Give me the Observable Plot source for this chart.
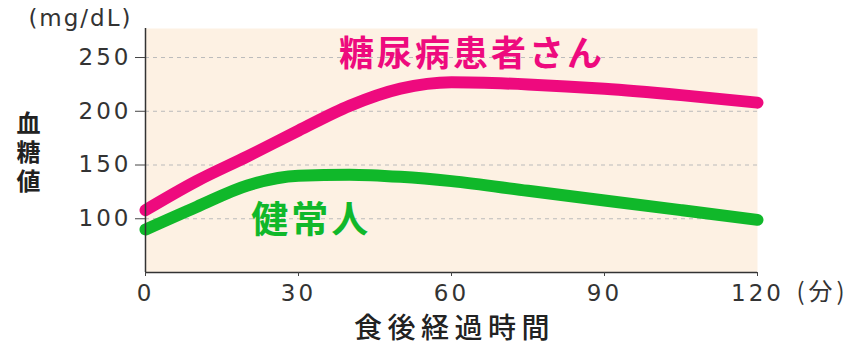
<!DOCTYPE html>
<html><head><meta charset="utf-8">
<script src="https://cdn.jsdelivr.net/npm/d3@7"></script>
<script src="https://cdn.jsdelivr.net/npm/@observablehq/plot@0.6"></script>
<style>
html,body{margin:0;padding:0;background:#fff;}
#chart svg{display:block;}
.ls-y text{letter-spacing:3px;}
.ls-x text{letter-spacing:3px;}
.ls-pink text{letter-spacing:3px;}
.ls-green text{letter-spacing:3px;}
.ls-unit text{letter-spacing:2px;}
.ls-min text{letter-spacing:4px;}
.ls-xlab text{letter-spacing:5.5px;}
.ls-vert text{writing-mode:vertical-rl;letter-spacing:5px;}
</style>
</head><body><div id="chart"></div>
<script>
const minutes = [0, 10, 20, 30, 40, 50, 60, 75, 90, 105, 120];
const diabetic = [108, 135, 158, 182, 205, 221, 227, 225, 221, 215, 208];
const healthy = [90, 111, 131, 140, 141, 139, 135, 126, 117, 108, 99];
const xTicks = [0, 30, 60, 90, 120];
const yTicks = [100, 150, 200, 250];
const seriesNames = ["糖尿病患者さん", "健常人"];
const pinkLabel = [{text: seriesNames[0], x: 64, y: 253}];
const greenLabel = [{text: seriesNames[1], x: 32.5, y: 98}];

const pink = "#ee0a7e", green = "#10b82a", ink = "#333";
const rows = [];
minutes.forEach((m, i) => {
  rows.push({series: seriesNames[0], minute: m, value: diabetic[i]});
  rows.push({series: seriesNames[1], minute: m, value: healthy[i]});
});
const numFont = "DejaVu Sans";
const jpFont = "Noto Sans CJK JP";

const chart = Plot.plot({
  width: 851, height: 347,
  marginLeft: 145, marginRight: 94, marginTop: 28, marginBottom: 75,
  style: {fontFamily: numFont, color: ink, background: "#fff"},
  x: {domain: [0, 120]},
  y: {domain: [50, 277]},
  color: {domain: seriesNames, range: [pink, green]},
  marks: [
    Plot.frame({fill: "#fdf1e3", stroke: "none"}),
    Plot.gridY(yTicks, {stroke: "#bbb", strokeOpacity: 1, strokeDasharray: "4,4", strokeWidth: 1}),
    Plot.line(rows, {x: "minute", y: "value", z: "series", stroke: "series", strokeWidth: 12, strokeLinecap: "round", strokeLinejoin: "round", curve: "monotone-x"}),
    Plot.ruleX([0], {stroke: "#333", strokeWidth: 1.5}),
    Plot.ruleY([50], {stroke: "#333", strokeWidth: 1.5}),
    Plot.axisY(yTicks, {tickSize: 10, tickPadding: 4, fontSize: 23, label: null, stroke: "#444", fill: ink, className: "ls-y"}),
    Plot.axisX(xTicks, {tickSize: 4, tickPadding: 8, fontSize: 23, label: null, stroke: "#444", fill: ink, className: "ls-x"}),
    Plot.text(pinkLabel, {x: "x", y: "y", text: "text", fill: pink, fontSize: 35, fontWeight: "bold", fontFamily: jpFont, className: "ls-pink"}),
    Plot.text(greenLabel, {x: "x", y: "y", text: "text", fill: green, fontSize: 37, fontWeight: "bold", fontFamily: jpFont, className: "ls-green"}),
    Plot.text(["(分)"], {x: 120, y: 50, text: d => d, textAnchor: "start", dx: 39, dy: 20, fontSize: 24, fontFamily: jpFont, fill: ink, className: "ls-min"}),
    Plot.text(["(mg/dL)"], {frameAnchor: "top-left", text: d => d, textAnchor: "end", dx: -13, dy: -3, lineAnchor: "bottom", fontSize: 23, fill: ink, className: "ls-unit"}),
    Plot.text(["血糖値"], {frameAnchor: "left", text: d => d, textAnchor: "middle", dx: -117, dy: -4, fontSize: 24, fontWeight: "bold", fontFamily: jpFont, fill: "#222", className: "ls-vert"}),
    Plot.text(["食後経過時間"], {frameAnchor: "bottom", text: d => d, dy: 65, dx: 3, fontSize: 28, fontWeight: 500, fontFamily: jpFont, fill: "#222", className: "ls-xlab"})
  ]
});
document.getElementById("chart").appendChild(chart);
</script>
</body></html>
